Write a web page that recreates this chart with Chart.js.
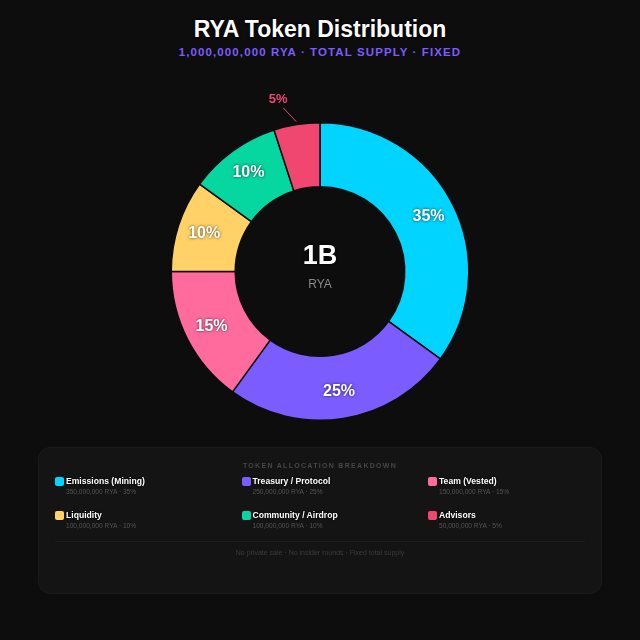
<!DOCTYPE html>
<html>
<head>
<meta charset="utf-8">
<script src="https://cdn.jsdelivr.net/npm/chart.js@4.4.1/dist/chart.umd.min.js"></script>
<style>
  html, body { margin: 0; padding: 0; }
  body {
    width: 640px; height: 640px; position: relative; overflow: hidden;
    background: #0d0d0d; font-family: "Liberation Sans", Arial, sans-serif;
  }
  #title {
    position: absolute; top: 16px; left: 0; width: 640px; text-align: center;
    color: #fff; font-size: 23px; font-weight: bold;
    text-shadow: 0 0 2px #000, 0 1px 3px rgba(0,0,0,0.9);
  }
  #subtitle {
    position: absolute; top: 46px; left: 0; width: 640px; text-align: center;
    color: #7c5cff; font-size: 11.5px; font-weight: bold; letter-spacing: 1.1px;
  }
  #chartBox { position: absolute; left: 0; top: 84px; width: 640px; height: 375px; }
  #panel {
    position: absolute; left: 38px; top: 447px; width: 562px; height: 145px;
    background: #141414; border: 1px solid #1b1b1b; border-radius: 12px;
  }
  #panelHead {
    position: absolute; top: 14px; left: 0; width: 100%; text-align: center;
    color: #474747; font-size: 7px; font-weight: bold; letter-spacing: 1.3px;
  }
  #legend {
    position: absolute; left: 16px; top: 28px;
    display: grid; grid-template-columns: repeat(3, 186.5px); row-gap: 14px;
  }
  .item { position: relative; height: 20px; padding-left: 11px; }
  .sw { position: absolute; left: 0; top: 1px; width: 9px; height: 9px; border-radius: 2px; }
  .lab { color: #fff; font-size: 8.6px; font-weight: bold; line-height: 11px; text-shadow: 0 0 2px #000; }
  .sub { color: #555; font-size: 6.6px; line-height: 10px; }
  #divider { position: absolute; left: 16px; right: 16px; top: 93px; height: 1px; background: #1e1e1e; }
  #foot {
    position: absolute; top: 101px; left: 0; width: 100%; text-align: center;
    color: #3c3c3c; font-size: 7px;
  }
</style>
</head>
<body>
<div id="title">RYA Token Distribution</div>
<div id="subtitle">1,000,000,000 RYA · TOTAL SUPPLY · FIXED</div>
<div id="chartBox"><canvas id="donut"></canvas></div>
<div id="panel">
  <div id="panelHead">TOKEN ALLOCATION BREAKDOWN</div>
  <div id="legend"></div>
  <div id="divider"></div>
  <div id="foot">No private sale · No insider rounds · Fixed total supply</div>
</div>
<script>
// allocation data
var labels = ['Emissions (Mining)', 'Treasury / Protocol', 'Team (Vested)', 'Liquidity', 'Community / Airdrop', 'Advisors'];
var tokens = [350000000, 250000000, 150000000, 100000000, 100000000, 50000000];
var percents = [35, 25, 15, 10, 10, 5];
var colors = ['#00d4ff', '#7b5cff', '#ff6b9d', '#ffd166', '#06d6a0', '#ef476f'];

// legend under the chart
var legendEl = document.getElementById('legend');
labels.forEach(function (name, i) {
    var div = document.createElement('div');
    div.className = 'item';
    div.innerHTML = '<span class="sw" style="background:' + colors[i] + '"></span>' +
        '<div class="lab">' + name + '</div>' +
        '<div class="sub">' + tokens[i].toLocaleString('en-US') + ' RYA · ' + percents[i] + '%</div>';
    legendEl.appendChild(div);
});

// percent labels + center text
var sliceLabels = {
    id: 'sliceLabels',
    afterDatasetsDraw: function (chart) {
        var ctx = chart.ctx;
        var arcs = chart.getDatasetMeta(0).data;
        ctx.save();
        ctx.textAlign = 'center';
        ctx.textBaseline = 'middle';
        arcs.forEach(function (arc, i) {
            var mid = (arc.startAngle + arc.endAngle) / 2;
            if (percents[i] >= 10) {
                var r = (arc.innerRadius + arc.outerRadius) / 2 + 5;
                ctx.font = 'bold 16px "Liberation Sans", Arial, sans-serif';
                ctx.fillStyle = '#fff';
                ctx.shadowColor = 'rgba(0,0,0,0.7)';
                ctx.shadowBlur = 3;
                ctx.fillText(percents[i] + '%', arc.x + Math.cos(mid) * r, arc.y + Math.sin(mid) * r);
                ctx.shadowBlur = 0;
            } else {
                var r0 = arc.outerRadius + 3;
                var a1 = mid - 0.064, r1 = arc.outerRadius + 19;
                var a2 = mid - 0.082, r2 = arc.outerRadius + 28;
                ctx.strokeStyle = colors[i];
                ctx.lineWidth = 1;
                ctx.beginPath();
                ctx.moveTo(arc.x + Math.cos(mid) * r0, arc.y + Math.sin(mid) * r0);
                ctx.lineTo(arc.x + Math.cos(a1) * r1, arc.y + Math.sin(a1) * r1);
                ctx.stroke();
                ctx.font = 'bold 13px "Liberation Sans", Arial, sans-serif';
                ctx.fillStyle = colors[i];
                ctx.fillText(percents[i] + '%', arc.x + Math.cos(a2) * r2, arc.y + Math.sin(a2) * r2);
            }
        });
        var cx = arcs[0].x, cy = arcs[0].y;
        ctx.font = 'bold 27px "Liberation Sans", Arial, sans-serif';
        ctx.fillStyle = '#fff';
        ctx.shadowColor = 'rgba(0,0,0,0.9)';
        ctx.shadowBlur = 3;
        ctx.fillText('1B', cx, cy - 15);
        ctx.shadowBlur = 0;
        ctx.font = '12px "Liberation Sans", Arial, sans-serif';
        ctx.fillStyle = '#8a8a8a';
        ctx.fillText('RYA', cx, cy + 13);
        ctx.restore();
    }
};

var ctx = document.getElementById('donut').getContext('2d');
var donut = new Chart(ctx, {
    type: 'doughnut',
    data: {
        labels: labels,
        datasets: [{
            data: tokens,
            backgroundColor: colors,
            borderColor: '#0d0d0d',
            borderWidth: 1.5
        }]
    },
    options: {
        responsive: true,
        maintainAspectRatio: false,
        animation: false,
        cutout: '57%',
        layout: { padding: { top: 38, bottom: 38 } },
        plugins: {
            legend: { display: false },
            tooltip: { enabled: false }
        }
    },
    plugins: [sliceLabels]
});
</script>
</body>
</html>
